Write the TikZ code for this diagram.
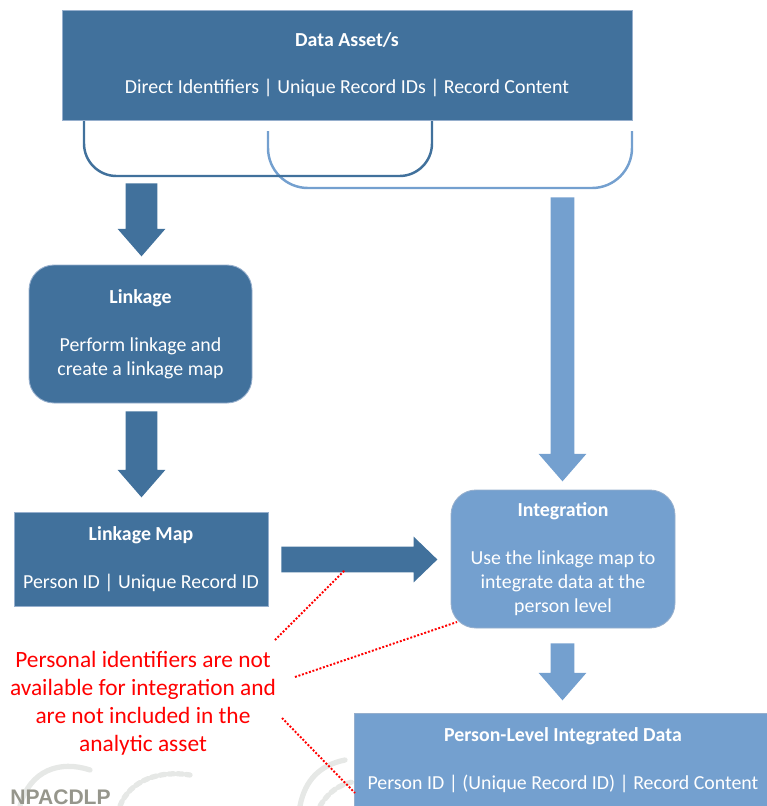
\documentclass[tikz,border=0pt]{standalone}
\usepackage{fontspec}
\setmainfont{Carlito}
\newfontfamily\markfont{Liberation Sans}
\usetikzlibrary{shapes.arrows}
\definecolor{assetblue}{RGB}{65,113,156}
\definecolor{linkblue}{RGB}{116,160,207}
\definecolor{edgeblue}{RGB}{150,175,205}
\definecolor{markgray}{RGB}{150,150,140}
\definecolor{wmgray}{RGB}{230,232,230}
\def\px{0.02cm}
\tikzset{
  box/.style={fill=assetblue, draw=edgeblue, line width=0.5pt, text=white, align=center,
    inner sep=0pt, font=\fontsize{11.3}{13.6}\selectfont},
  roundbox/.style={box, rounded corners=0.5cm},
  darrow/.style={single arrow, fill=assetblue, inner sep=15.5*\px, single arrow tip angle=82,
    single arrow head extend=8*\px, shape border rotate=270, anchor=tail},
  larrow/.style={darrow, fill=linkblue, inner sep=11.5*\px, single arrow head extend=12*\px},
  brace/.style={line width=1.4pt},
  hint/.style={red, densely dotted, line width=1.1pt},
  note/.style={text=red, align=center, font=\fontsize{13.3}{15.9}\selectfont},
}
\begin{document}
\begin{tikzpicture}[x=0.02cm, y=-0.02cm]
    \useasboundingbox (0,0) rectangle (767,806);
    \clip (0,0) rectangle (767,806);

    % faint watermark
    \draw[wmgray, line width=3pt, line cap=round] (20,806) .. controls (30,770) and (60,760) .. (90,770);
    \draw[wmgray, line width=3pt, line cap=round, dotted] (120,806) .. controls (130,780) and (160,770) .. (190,775);
    \draw[wmgray, line width=3pt, line cap=round] (300,806) .. controls (305,780) and (320,765) .. (345,760);
    \draw[wmgray, line width=3pt, line cap=round, dotted] (320,806) .. controls (330,790) and (340,785) .. (352,782);
    \node[anchor=base west, inner sep=0pt, text=markgray, font=\markfont\bfseries\fontsize{12}{12}\selectfont] (mark) at (10,804) {NPACDLP};

    % braces under the data asset
    \draw[brace, linkblue, rounded corners=0.8cm] (268,131) -- (268,188) -- (632,188) -- (632,131);
    \draw[brace, assetblue, rounded corners=0.65cm] (84,120) -- (84,176) -- (432,176) -- (432,120);

    \node[box, minimum width=570*\px, minimum height=110*\px] (asset) at (347,65)
        {\textbf{Data Asset/s}\\[13pt]Direct Identifiers | Unique Record IDs | Record Content};
    \node[roundbox, minimum width=223*\px, minimum height=138*\px] (linkage) at (140.5,334)
        {\textbf{Linkage}\\[13.6pt]Perform linkage and\\create a linkage map};
    \node[box, minimum width=254*\px, minimum height=94*\px] (map) at (141,559)
        {\textbf{Linkage Map}\\[13.6pt]Person ID | Unique Record ID};
    \node[roundbox, fill=linkblue, minimum width=224*\px, minimum height=138*\px] (integ) at (563,559)
        {\textbf{Integration}\\[13.6pt]Use the linkage map to\\integrate data at the\\person level};
    \node[box, fill=linkblue, minimum width=418*\px, minimum height=94*\px] (person) at (563,760)
        {\textbf{Person-Level Integrated Data}\\[13.6pt]Person ID | (Unique Record ID) | Record Content};

    % block arrows
    \node[darrow, minimum height=73*\px] (toLinkage) at (141.5,183) {};
    \node[darrow, minimum height=86*\px] (toMap) at (141.5,411) {};
    \node[darrow, shape border rotate=0, single arrow tip angle=88, inner sep=12.5*\px,
        single arrow head extend=10*\px, minimum height=156*\px] (toInteg) at (281,559.5) {};
    \node[larrow, minimum height=284*\px] (assetToInteg) at (562.5,197) {};
    \node[larrow, minimum height=57*\px] (toPerson) at (562.5,643) {};

    % note on personal identifiers
    \node[note] (note) at (143,703)
        {Personal identifiers are not\\available for integration and\\are not included in the\\analytic asset};
    \coordinate (n1) at (275,640);
    \coordinate (n2) at (295,677);
    \coordinate (n3) at (282,718);
    \coordinate (t1) at (345,570);
    \coordinate (t2) at (457,622);
    \coordinate (t3) at (355,793);
    \draw[hint] (n1) -- (t1);
    \draw[hint] (n2) -- (t2);
    \draw[hint] (n3) -- (t3);

\end{tikzpicture}
\end{document}
